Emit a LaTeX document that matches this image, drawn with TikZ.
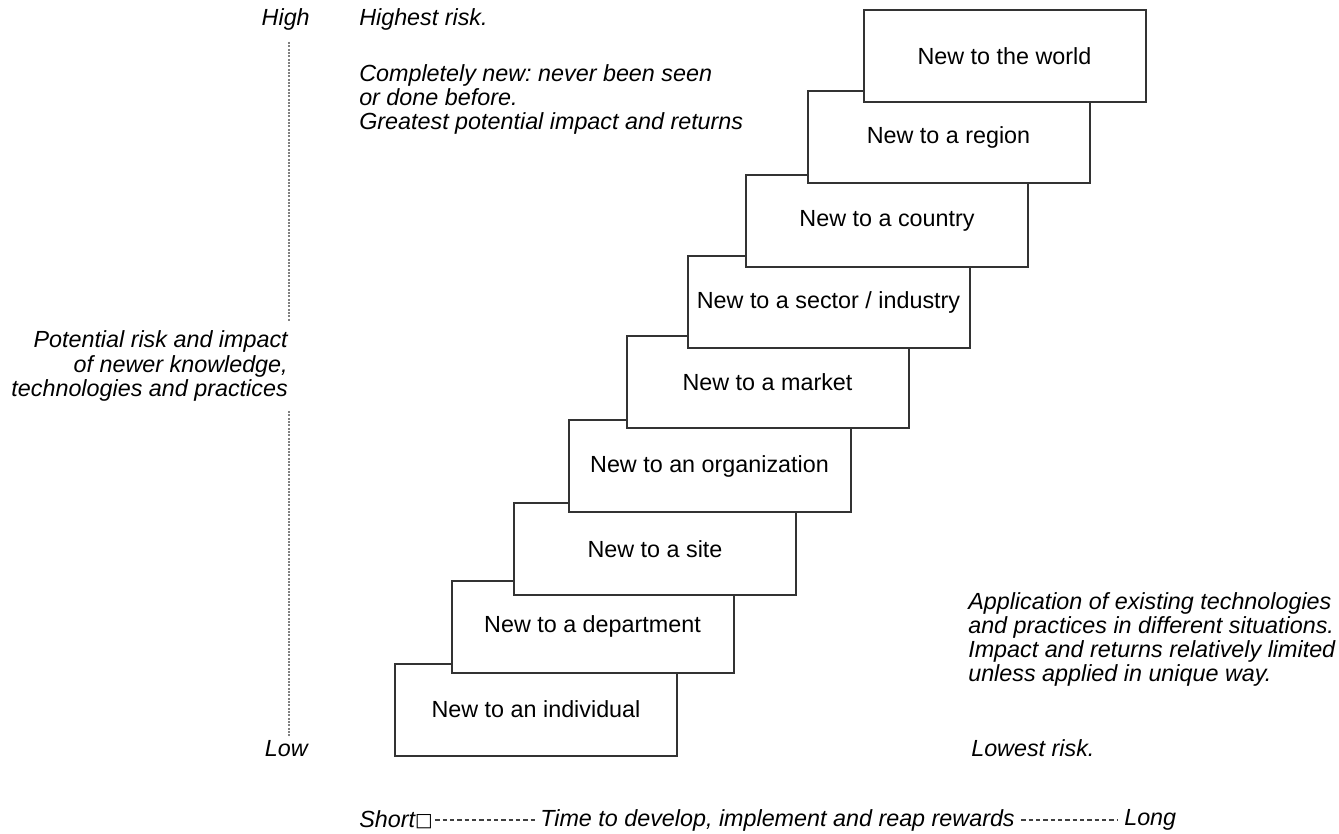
\documentclass[tikz,border=0pt]{standalone}
\usepackage{fontspec}
\setmainfont{Liberation Sans}
\newfontfamily\symfont{DejaVu Sans}
\frenchspacing
\tikzset{
  stair/.style={draw=black!80, line width=1.5pt, fill=white, minimum width=211.5pt,
    minimum height=69pt, inner sep=0pt, font=\fontsize{17.5}{21}\selectfont},
  note/.style={inner sep=0.75pt, font=\fontsize{17.5}{18.2}\selectfont\itshape},
  axisdots/.style={draw=black!50, line width=1.7pt, dash pattern=on 1.5pt off 1pt},
  timedash/.style={draw=black!75, line width=0.9pt, dash pattern=on 3.2pt off 2.3pt}
}

\begin{document}
\begin{tikzpicture}[x=0.75pt,y=0.75pt,yscale=-1,xscale=1]
\useasboundingbox (0,0) rectangle (1339,834);
% Stairs, lowest first
\draw (536,709.5) node [stair] (indiv) {New to an individual};
\draw (592.5,626.5) node [stair] (dept) {New to a department};
\draw (655,549) node [stair] (site) {New to a site};
\draw (709.5,466) node [stair] (org) {New to an organization};
\draw (767.5,382) node [stair] (market) {New to a market};
\draw (828.5,302) node [stair] (sector) {New to a sector / industry};
\draw (887,221) node [stair] (country) {New to a country};
\draw (948.5,137.5) node [stair] (region) {New to a region};
\draw (1004.5,56) node [stair] (world) {New to the world};
% Text Node
\draw (311,19) node [anchor=east] [note] (high) {High};
% Text Node
\draw (309,749) node [anchor=east] [note] (low) {Low};
% Text Node
\draw (289,366) node [anchor=east] [note, align=right] (risk) {Potential risk and impact\\of newer knowledge,\\technologies and practices};
% Text Node
\draw (358,19) node [anchor=west] [note] (highest) {Highest risk.};
% Text Node
\draw (358,99.5) node [anchor=west] [note, align=left] (newest) {Completely new: never been seen\\or done before.\\Greatest potential impact and returns};
% Text Node
\draw (967,639.5) node [anchor=west] [note, align=left] (existing) {Application of existing technologies\\and practices in different situations.\\Impact and returns relatively limited\\unless applied in unique way.};
% Text Node
\draw (970,748) node [anchor=west] [note] (lowest) {Lowest risk.};
% Text Node
\draw (358,820) node [anchor=west] [note] (short) {Short{\upshape\symfont\fontsize{14}{14}\selectfont\raisebox{0.5pt}{□}}};
% Text Node
\draw (539,820) node [anchor=west] [note] (time) {Time to develop, implement and reap rewards};
% Text Node
\draw (1123,820) node [anchor=west] [note] (long) {Long};
% Axis
\coordinate (axtop) at (289,42);
\coordinate (axmid1) at (289,322);
\coordinate (axmid2) at (289,411);
\coordinate (axbot) at (289,736);
\draw [axisdots] (axtop) -- (axmid1);
\draw [axisdots] (axmid2) -- (axbot);
\draw [timedash] ([xshift=1pt]short.east) -- ([xshift=-3pt]time.west);
\draw [timedash] ([xshift=4pt]time.east) -- ([xshift=-4pt]long.west);
\end{tikzpicture}
\end{document}
